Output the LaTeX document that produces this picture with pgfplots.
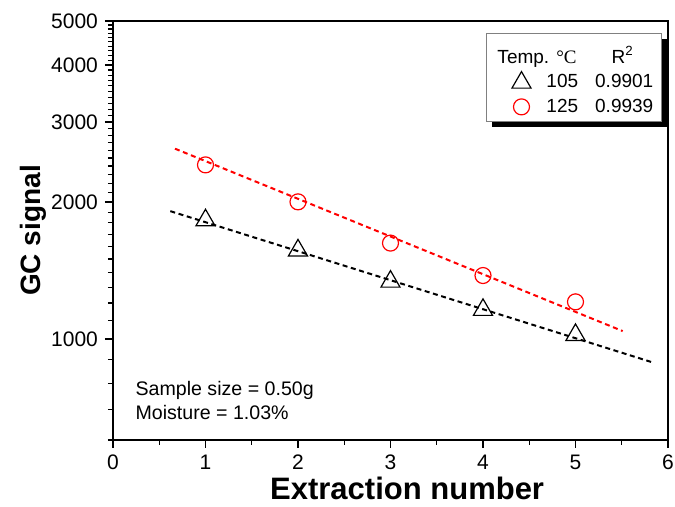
\documentclass[border=0pt]{standalone}
\usepackage{fontspec}
\setmainfont{Liberation Sans}
\newfontfamily\serifdeg{Liberation Serif}
\usepackage{pgfplots}
\pgfplotsset{compat=1.18}
\usetikzlibrary{shadows}

\pgfplotsset{
  wide mark legend/.style={legend image code/.code={
    \pgfpathmoveto{\pgfpoint{0pt}{0pt}}\pgfpathmoveto{\pgfpoint{25pt}{0pt}}\pgfusepath{discard}%
    \draw[##1, only marks] plot coordinates {(14.5pt,0pt)};}},
}
\newcommand{\legtext}[1]{\makebox[52.5pt][l]{#1}}

\begin{document}
\begin{tikzpicture}
\begin{axis}[
  scale only axis, width=277.5pt, height=209.5pt,
  xmin=0, xmax=6, ymode=log, ymin=600, ymax=5000,
  xtick={0,1,2,3,4,5,6}, xticklabels={0,1,2,3,4,5,6}, minor x tick num=1,
  ytick={1000,2000,3000,4000,5000}, yticklabels={1000,2000,3000,4000,5000},
  minor ytick={600,700,800,900,1100,1200,1300,1400,1500,1600,1700,1800,1900,
    2100,2200,2300,2400,2500,2600,2700,2800,2900,3100,3200,3300,3400,3500,3600,3700,3800,3900,
    4100,4200,4300,4400,4500,4600,4700,4800,4900},
  tick align=outside, tick pos=left,
  major tick length=4pt, minor tick length=2.5pt,
  axis line style={line width=0.8pt},
  every tick/.style={black, line width=0.6pt},
  tick label style={font=\fontsize{10.5}{12}\selectfont},
  /pgf/number format/assume math mode=true,
  xlabel={\textbf{Extraction number}},
  xlabel style={at={(axis description cs:0.53,-0.143)}, anchor=base, font=\fontsize{15.5}{18}\selectfont},
  ylabel={\textbf{GC signal}},
  ylabel style={at={(axis description cs:-0.144,0.5)}, anchor=center, font=\fontsize{14}{16}\selectfont},
  legend style={at={(1,1)}, anchor=north east, xshift=-3pt, yshift=-6pt,
    draw=gray, line width=0.5pt, fill=white,
    drop shadow={shadow xshift=3pt, shadow yshift=-3pt, fill=black, opacity=1},
    font=\fontsize{9.5}{11}\selectfont, inner xsep=3pt, inner ysep=1pt},
  legend cell align=left,
]
\addlegendimage{empty legend}
\addlegendentry{\legtext{\rule{0pt}{12pt}\hspace*{-24.5pt}Temp. {\serifdeg °C}\hspace{17.5pt}R\textsuperscript{2}}}

% fitted lines
\addplot[black, line width=1pt, dash pattern=on 2.5pt off 1.8pt, forget plot]
  coordinates {(0.62,1910) (5.83,889)};
\addplot[red, line width=1pt, dash pattern=on 2.5pt off 1.8pt, forget plot]
  coordinates {(0.67,2620) (5.51,1041)};

% 105 C
\addplot[only marks, mark=triangle, mark size=5.5pt, mark options={black, line width=0.6pt}, wide mark legend]
  coordinates {(1,1824) (2,1566) (3,1337) (4,1159) (5,1021)};
\addlegendentry{\legtext{105\hspace{8.5pt}0.9901}}
% 125 C
\addplot[only marks, mark=o, mark size=4pt, mark options={red, line width=0.6pt}, wide mark legend]
  coordinates {(1,2414) (2,2002) (3,1625) (4,1379) (5,1207)};
\addlegendentry{\legtext{125\hspace{8.5pt}0.9939}}

\node[anchor=base west, inner sep=0, font=\fontsize{9.8}{12}\selectfont] at (rel axis cs:0.04,0.107) {Sample size = 0.50g};
\node[anchor=base west, inner sep=0, font=\fontsize{9.8}{12}\selectfont] at (rel axis cs:0.04,0.048) {Moisture = 1.03\%};
\end{axis}
\pgfresetboundingbox
\path[use as bounding box] ([shift={(-56.5pt,-33.5pt)}]current axis.south west) rectangle ([shift={(3.5pt,10.5pt)}]current axis.north east);
\end{tikzpicture}
\end{document}
